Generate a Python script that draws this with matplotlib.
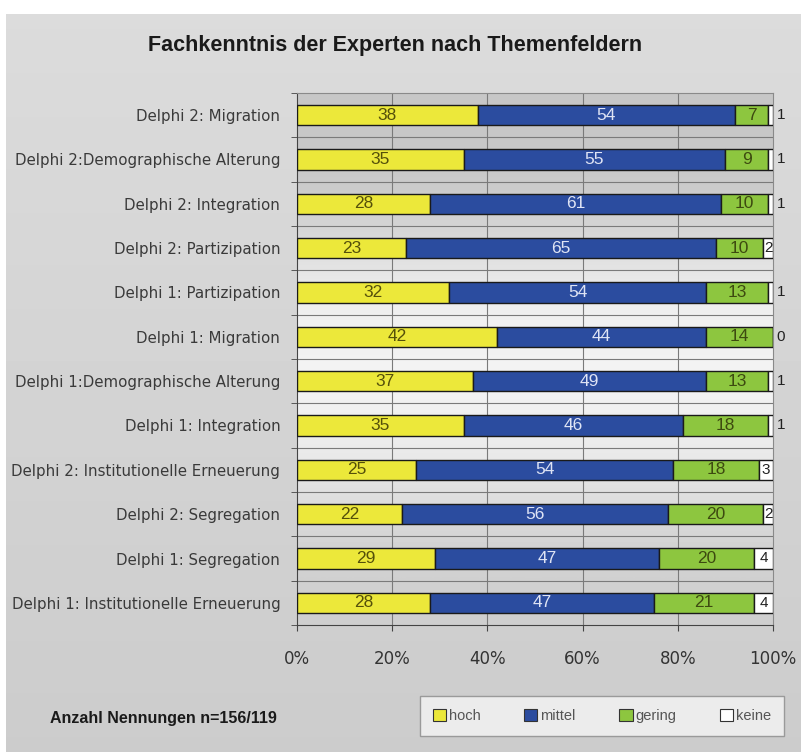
import numpy as np
import matplotlib.pyplot as plt
from matplotlib.patches import Rectangle

categories = ["Delphi 2: Migration", "Delphi 2:Demographische Alterung", "Delphi 2: Integration",
              "Delphi 2: Partizipation", "Delphi 1: Partizipation", "Delphi 1: Migration",
              "Delphi 1:Demographische Alterung", "Delphi 1: Integration",
              "Delphi 2: Institutionelle Erneuerung", "Delphi 2: Segregation",
              "Delphi 1: Segregation", "Delphi 1: Institutionelle Erneuerung"]
hoch = [38, 35, 28, 23, 32, 42, 37, 35, 25, 22, 29, 28]
mittel = [54, 55, 61, 65, 54, 44, 49, 46, 54, 56, 47, 47]
gering = [7, 9, 10, 10, 13, 14, 13, 18, 18, 20, 20, 21]
keine = [1, 1, 1, 2, 1, 0, 1, 1, 3, 2, 4, 4]
series_names = ["hoch", "mittel", "gering", "keine"]
xticks = [0, 20, 40, 60, 80, 100]

colors = ["#ece83a", "#2b4c9f", "#8dc63f", "#ffffff"]
text_colors = ["#55500a", "#dfe4f5", "#3d4a10", "#222222"]

plt.rcParams['font.family'] = ['Liberation Sans', 'DejaVu Sans']
fig = plt.figure(figsize=(8.01, 7.52), dpi=100)
fig.patch.set_facecolor("white")

# grey photo-like background
bg = fig.add_axes([6/801, 0, 795/801, 1 - 14/752])
grad = np.linspace(0.86, 0.80, 100).reshape(-1, 1)
bg.imshow(grad, cmap="gray", vmin=0, vmax=1, aspect="auto", extent=[0, 1, 0, 1])
bg.axis("off")

ax = fig.add_axes([297/801, 1 - 625/752, 476/801, 532/752])
n = len(categories)
y = np.arange(n)

# plot area shading
shade = np.array([0.78, 0.78, 0.80, 0.86, 0.93, 0.95, 0.95, 0.94, 0.90, 0.85, 0.82, 0.81]).reshape(-1, 1)
ax.imshow(shade, cmap="gray", vmin=0, vmax=1, aspect="auto",
          extent=[0, 100, n - 0.5, -0.5], zorder=0, interpolation="bicubic")

data = [hoch, mittel, gering, keine]
left = np.zeros(n)
for k, vals in enumerate(data):
    vals = np.array(vals, dtype=float)
    ax.barh(y, vals, left=left, height=0.46, color=colors[k], edgecolor="#1a1a1a",
            linewidth=1.0, zorder=3)
    for i in range(n):
        v = vals[i]
        if k == 3:
            if v <= 1:
                ax.text(100.8, i, "%d" % v, ha="left", va="center",
                        fontsize=11, color="#222222", zorder=4)
            else:
                ax.text(left[i] + v / 2, i, "%d" % v, ha="center", va="center",
                        fontsize=11, color="#222222", zorder=4)
        else:
            ax.text(left[i] + v / 2, i, "%d" % v, ha="center", va="center",
                    fontsize=12.5, color=text_colors[k], zorder=4)
    left += vals

ax.set_xlim(0, 100)
ax.set_ylim(n - 0.5, -0.5)
ax.set_yticks(y)
ax.set_yticklabels(categories, fontsize=10.8, color="#3a3a3a", family="DejaVu Sans")
ax.tick_params(axis="y", length=0, pad=12)
ax.set_yticks(np.arange(n + 1) - 0.5, minor=True)
ax.tick_params(axis="y", which="minor", length=4, color="#444444")
ax.set_xticks(xticks)
ax.set_xticklabels(["%d%%" % t for t in xticks], fontsize=12, color="#333333",
                   family="DejaVu Sans")
ax.tick_params(axis="x", length=4, pad=14, color="#444444")

for yy in np.arange(n - 1) + 0.5:
    ax.axhline(yy, color="#7a7a7a", linewidth=0.8, zorder=1)
for xx in xticks[1:-1]:
    ax.axvline(xx, color="#7a7a7a", linewidth=0.8, zorder=1)

for s in ["left", "bottom"]:
    ax.spines[s].set_color("#444444")
for s in ["top", "right"]:
    ax.spines[s].set_color("#8a8a8a")

fig.text(395/801, 1 - 45/752, "Fachkenntnis der Experten nach Themenfeldern",
         ha="center", va="center", fontsize=15.5, fontweight="bold", color="#1a1a1a")
fig.text(50/801, 1 - 718/752, "Anzahl Nennungen n=156/119", ha="left", va="center",
         fontsize=11.5, fontweight="bold", color="#1a1a1a")

handles = [Rectangle((0, 0), 1, 1, facecolor=c, edgecolor="#333333", linewidth=0.8) for c in colors]
leg = fig.legend(handles, series_names, loc="center", bbox_to_anchor=(602/801, 1 - 716/752),
                 ncol=4, fontsize=10.5, frameon=True, fancybox=False, handlelength=0.9,
                 handleheight=0.9, handletextpad=0.2, columnspacing=3.0, borderpad=0.9)
leg.get_frame().set_facecolor("#f4f4f4")
leg.get_frame().set_edgecolor("#8a8a8a")
for t in leg.get_texts():
    t.set_color("#555555")

fig.savefig("out.png", dpi=100)
